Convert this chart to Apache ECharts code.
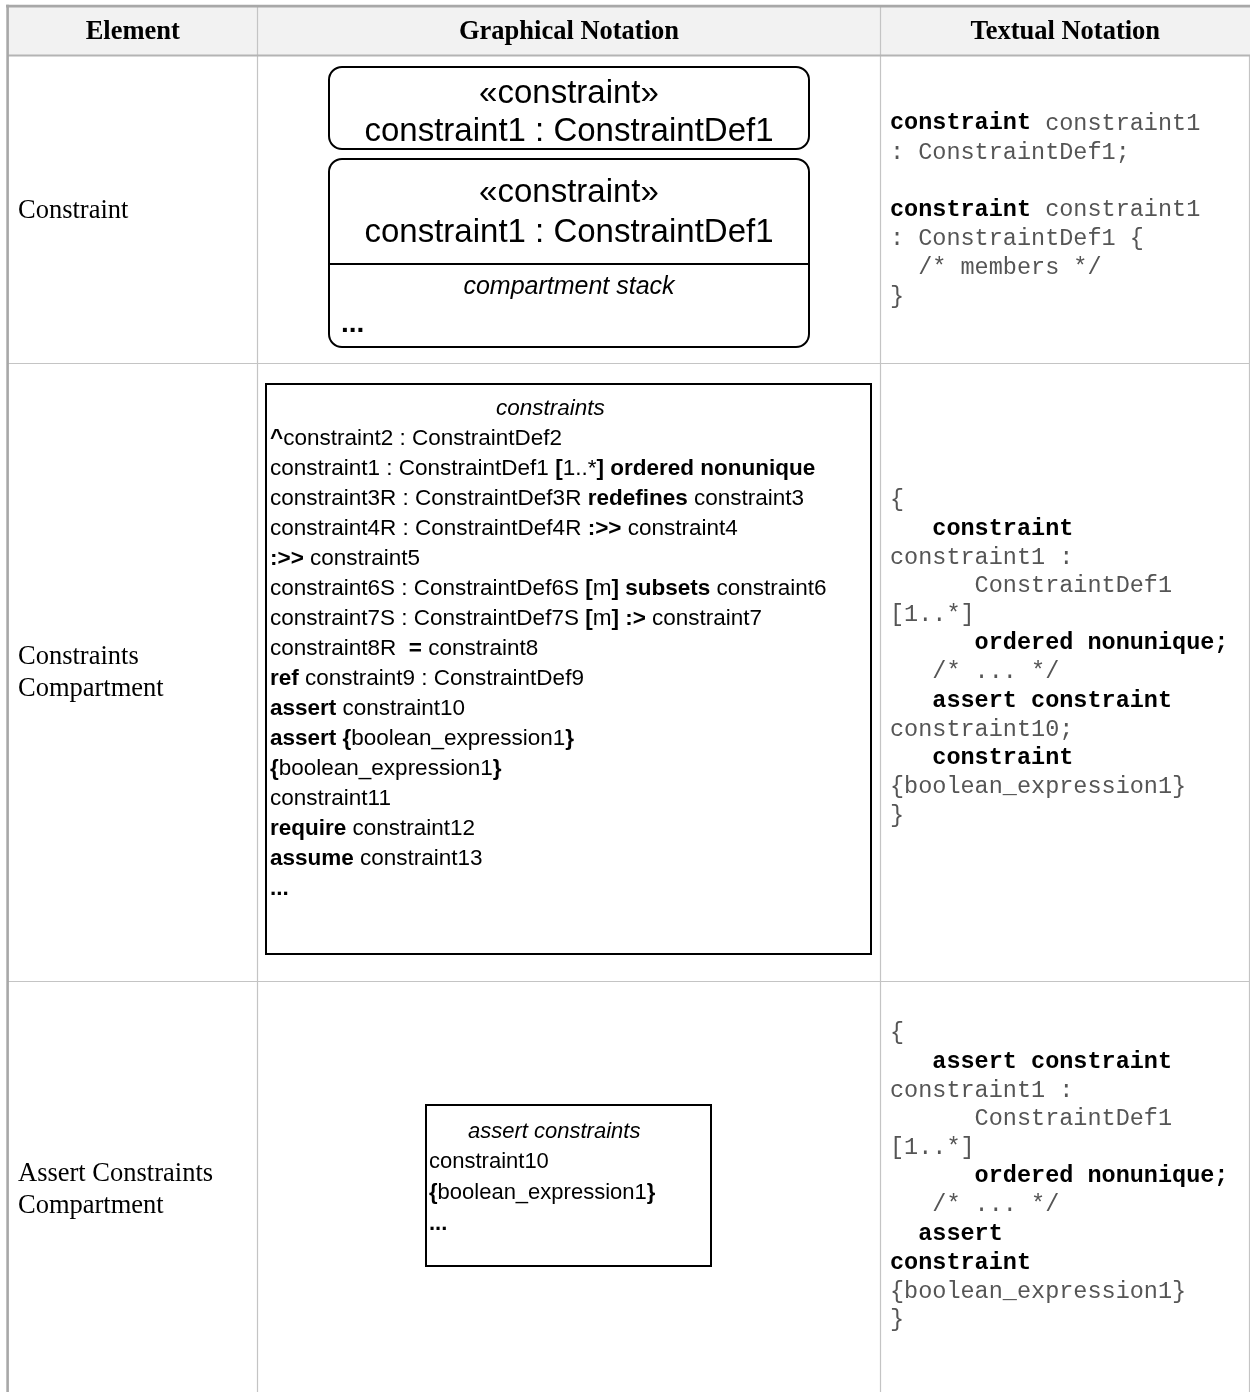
<!DOCTYPE html>
<html><head><meta charset="utf-8">
<script src="https://cdn.jsdelivr.net/npm/echarts@6/dist/echarts.min.js"></script>
<style>html,body{margin:0;padding:0;background:#fff}#c{width:1250px;height:1392px}</style>
</head><body><div id="c"></div>
<script>
// ---- content (§ toggles bold) ----
const headers = ['Element', 'Graphical Notation', 'Textual Notation'];
const rowLabels = [['Constraint'], ['Constraints', 'Compartment'], ['Assert Constraints', 'Compartment']];
const usageHeader = ['«constraint»', 'constraint1 : ConstraintDef1'];
const compartmentStackLabel = 'compartment stack';
const compartmentMore = '§...§';
const constraintsTitle = 'constraints';
const constraintsLines = [
  '§^§constraint2 : ConstraintDef2',
  'constraint1 : ConstraintDef1 §[§1..*§] ordered nonunique§',
  'constraint3R : ConstraintDef3R §redefines§ constraint3',
  'constraint4R : ConstraintDef4R §:>>§ constraint4',
  '§:>>§ constraint5',
  'constraint6S : ConstraintDef6S §[§m§] subsets§ constraint6',
  'constraint7S : ConstraintDef7S §[§m§] :>§ constraint7',
  'constraint8R  §=§ constraint8',
  '§ref§ constraint9 : ConstraintDef9',
  '§assert§ constraint10',
  '§assert {§boolean_expression1§}§',
  '§{§boolean_expression1§}§',
  'constraint11',
  '§require§ constraint12',
  '§assume§ constraint13',
  '§...§'
];
const assertTitle = 'assert constraints';
const assertLines = ['constraint10', '§{§boolean_expression1§}§', '§...§'];
const textualUsage = [
  '§constraint§ constraint1',
  ': ConstraintDef1;',
  '',
  '§constraint§ constraint1',
  ': ConstraintDef1 {',
  '  /* members */',
  '}'
];
const textualConstraints = [
  '{',
  '   §constraint§',
  'constraint1 :',
  '      ConstraintDef1',
  '[1..*]',
  '      §ordered nonunique;§',
  '   /* ... */',
  '   §assert constraint§',
  'constraint10;',
  '   §constraint§',
  '{boolean_expression1}',
  '}'
];
const textualAssert = [
  '{',
  '   §assert constraint§',
  'constraint1 :',
  '      ConstraintDef1',
  '[1..*]',
  '      §ordered nonunique;§',
  '   /* ... */',
  '  §assert§',
  '§constraint§',
  '{boolean_expression1}',
  '}'
];

// ---- rendering ----
const SANS = "'Liberation Sans', Arial, sans-serif";
const SERIF = "'Liberation Serif', 'Times New Roman', serif";
const MONO = "'Liberation Mono', 'Courier New', monospace";
const mctx = document.createElement('canvas').getContext('2d');
function fontStr(st, w, size, fam) { return st + ' ' + w + ' ' + size + 'px ' + fam; }
function measure(t, st, w, size, fam) { mctx.font = fontStr(st, w, size, fam); return mctx.measureText(t).width; }

const els = [];
function txt(t, x, y, o) {
  els.push({
    type: 'text', x: x, y: y, silent: true,
    style: {
      text: t, fill: o.color || '#000', fontSize: o.size, fontFamily: o.fam,
      fontWeight: o.weight || 'normal', fontStyle: o.style || 'normal',
      align: o.align || 'left', verticalAlign: 'middle',
      textAlign: o.align || 'left', textVerticalAlign: 'middle'
    }
  });
}
function richLine(str, x, y, o) {
  const segs = str.split('§');
  let total = 0;
  const parts = segs.map((s, i) => {
    const w = (i % 2 === 1) ? 'bold' : 'normal';
    const wd = measure(s, o.style || 'normal', w, o.size, o.fam);
    total += wd;
    return { s, w, wd };
  });
  let cx = o.align === 'center' ? x - total / 2 : x;
  parts.forEach(p => {
    if (p.s.length) txt(p.s, cx, y, { size: o.size, fam: o.fam, weight: p.w, style: o.style,
      color: p.w === 'bold' ? (o.boldColor || '#000') : (o.color || '#000') });
    cx += p.wd;
  });
}
function rect(x, y, w, h, fill) {
  els.push({ type: 'rect', silent: true, shape: { x, y, width: w, height: h }, style: { fill } });
}
function box(x, y, w, h, r) {
  els.push({ type: 'rect', silent: true, shape: { x, y, width: w, height: h, r: r || 0 },
    style: { fill: 'none', stroke: '#000', lineWidth: 2 } });
}
function hline(x1, x2, y, color, lw) {
  els.push({ type: 'line', silent: true, shape: { x1, y1: y, x2, y2: y }, style: { stroke: color, lineWidth: lw } });
}
function vline(x, y1, y2, color, lw) {
  els.push({ type: 'line', silent: true, shape: { x1: x, y1, x2: x, y2 }, style: { stroke: color, lineWidth: lw } });
}

// table frame
const colX = [8, 257.5, 880.5, 1250];
const rowY = [6, 56, 363.5, 981.5, 1400];
rect(8, 6, 1242, 49, '#f2f2f2');
vline(colX[1], 6, 1392, '#c4c4c4', 1.2);
vline(colX[2], 6, 1392, '#c4c4c4', 1.2);
vline(1249.5, 56, 1392, '#c4c4c4', 1.2);
hline(8, 1250, rowY[2], '#c4c4c4', 1.2);
hline(8, 1250, rowY[3], '#c4c4c4', 1.2);
rect(8, 54.5, 1242, 2, '#b4b4b4');
rect(6, 4.8, 1244, 2.6, '#a8a8a8');
rect(6.3, 4.8, 2.6, 1388, '#a8a8a8');

// header
headers.forEach((h, i) => {
  txt(h, (colX[i] + colX[i + 1]) / 2, 32, { size: 26.5, fam: SERIF, weight: 'bold', align: 'center' });
});
// row labels
const labelY = [[211], [657, 689], [1174, 1206]];
rowLabels.forEach((ls, r) => ls.forEach((l, j) => txt(l, 18, labelY[r][j], { size: 26.5, fam: SERIF })));

// row 1 graphical
box(329, 67, 480, 82, 13);
txt(usageHeader[0], 569, 94, { size: 33, fam: SANS, align: 'center' });
txt(usageHeader[1], 569, 132, { size: 33, fam: SANS, align: 'center' });
box(329, 159, 480, 188, 13);
txt(usageHeader[0], 569, 193, { size: 33, fam: SANS, align: 'center' });
txt(usageHeader[1], 569, 233, { size: 33, fam: SANS, align: 'center' });
hline(329, 809, 264, '#000', 2);
txt(compartmentStackLabel, 569, 287, { size: 25, fam: SANS, style: 'italic', align: 'center' });
richLine(compartmentMore, 341, 324, { size: 28, fam: SANS });

// row 2 graphical
box(266, 384, 605, 570, 0);
txt(constraintsTitle, 496, 409, { size: 22.5, fam: SANS, style: 'italic' });
constraintsLines.forEach((l, i) => richLine(l, 270, 438.5 + 30 * i, { size: 22.5, fam: SANS }));

// row 3 graphical
box(426, 1105, 285, 161, 0);
txt(assertTitle, 468, 1132, { size: 22, fam: SANS, style: 'italic' });
assertLines.forEach((l, i) => richLine(l, 429, 1162 + 31 * i, { size: 22, fam: SANS }));

// textual notation
const monoOpt = { size: 23.5, fam: MONO, color: '#555555', boldColor: '#000' };
textualUsage.forEach((l, i) => richLine(l, 890, 123.5 + 28.8 * i, monoOpt));
textualConstraints.forEach((l, i) => richLine(l, 890, 500 + 28.7 * i, monoOpt));
textualAssert.forEach((l, i) => richLine(l, 890, 1033 + 28.7 * i, monoOpt));

const chart = echarts.init(document.getElementById('c'), null, { renderer: 'canvas', width: 1250, height: 1392 });
chart.setOption({ backgroundColor: '#ffffff', animation: false, graphic: { elements: els } });
</script></body></html>
